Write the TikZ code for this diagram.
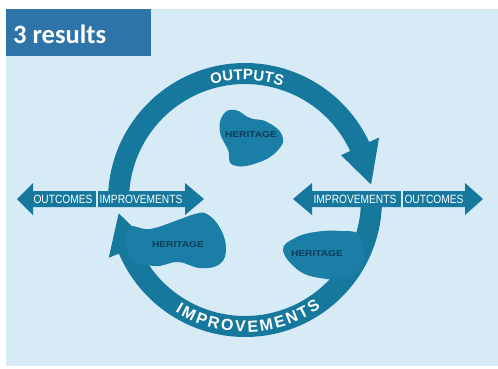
\documentclass[tikz,border=0pt]{standalone}
\usepackage{fontspec}
\usepackage{graphicx}
\setmainfont{Liberation Sans}
\newfontfamily\calib{Carlito}
\usetikzlibrary{calc,decorations.text}
\definecolor{ringc}{RGB}{22,120,157}
\definecolor{blobc}{RGB}{26,126,166}
\definecolor{bgc}{RGB}{214,235,246}
\definecolor{titlec}{RGB}{46,116,168}
\definecolor{herc}{RGB}{14,60,90}
\begin{document}
\begin{tikzpicture}[x=1pt,y=1pt,
  arrtxt/.style={text=white,font=\fontsize{12}{12}\selectfont,inner sep=0pt},
  hertxt/.style={text=herc,font=\bfseries\fontsize{8.5}{8.5}\selectfont,inner sep=0pt},
  arrowbody/.style={fill=ringc},
  divider/.style={draw=bgc,line width=1.5pt},
  blob/.style={fill=blobc}]
\useasboundingbox (0,0) rectangle (498,368);
\fill[white] (0,0) rectangle (498,368);
\fill[bgc] (6,2) rectangle (498,359);
% title
\node[fill=titlec,minimum width=145pt,minimum height=47pt,anchor=south west,inner sep=0pt] (title) at (6,312) {};
\node[anchor=base west,text=white,font=\calib\bfseries\fontsize{26.5}{26.5}\selectfont,inner sep=0pt] (titletext) at (13,325) {3 results};
% ring
\coordinate (C) at (245,168);
\fill[ringc] ($(C)+(180:137)$) arc[start angle=180,end angle=25,radius=137]
  -- ($(C)+(25:148)$) -- ($(C)+(7:127)$) -- ($(C)+(25:106)$) -- ($(C)+(25:116)$)
  arc[start angle=25,end angle=180,radius=116] -- cycle;
\fill[ringc] ($(C)+(0:137)$) arc[start angle=0,end angle=-157,radius=137]
  -- ($(C)+(-157:148)$) -- ($(C)+(-174:127)$) -- ($(C)+(-157:106)$) -- ($(C)+(-157:116)$)
  arc[start angle=-157,end angle=0,radius=116] -- cycle;
% heritage blobs
\fill[blob] plot[smooth cycle,tension=0.8] coordinates {(223,253) (235,258) (250,250) (267,246) (282,233) (278,218) (257,205) (233,203) (228,218) (220,236)};
\fill[blob] plot[smooth cycle,tension=0.7] coordinates {(128,140) (150,139) (178,148) (195,154) (207,154) (220,140) (226,120) (220,104) (200,100) (178,106) (155,102) (130,110)};
\fill[blob] plot[smooth cycle,tension=0.7] coordinates {(283,118) (295,130) (315,136) (340,137) (360,132) (362,103) (345,90) (320,90) (298,98)};
\node[hertxt] (h1) at (251,233) {\scalebox{1.2}[1]{HERITAGE}};
\node[hertxt] (h2) at (178,123) {\scalebox{1.2}[1]{HERITAGE}};
\node[hertxt] (h3) at (317,114) {\scalebox{1.2}[1]{HERITAGE}};
% horizontal double arrows
\fill[arrowbody] (17,169) -- (33,185) -- (33,177) -- (185,177) -- (185,185) -- (204,169)
  -- (185,153) -- (185,161) -- (33,161) -- (33,153) -- cycle;
\draw[divider] (97,161) -- (97,177);
\fill[arrowbody] (293,169) -- (312,185) -- (312,177) -- (465,177) -- (465,185) -- (483,169)
  -- (465,153) -- (465,161) -- (312,161) -- (312,153) -- cycle;
\draw[divider] (402,161) -- (402,177);
\node[arrtxt] (lo) at (63,169) {\scalebox{0.85}[1]{OUTCOMES}};
\node[arrtxt] (li) at (141,169) {\scalebox{0.85}[1]{IMPROVEMENTS}};
\node[arrtxt] (ri) at (355,169) {\scalebox{0.85}[1]{IMPROVEMENTS}};
\node[arrtxt] (ro) at (434,169) {\scalebox{0.85}[1]{OUTCOMES}};
% curved labels
\path[decorate,decoration={text along path,text align=center,
  text={|\color{white}\bfseries\fontsize{15}{15}\selectfont|OUTPUTS}}]
  ($(C)+(111:120)$) arc[start angle=111,end angle=67,radius=120];
\path[decorate,decoration={text along path,text align=fit to path,
  text={|\color{white}\bfseries\fontsize{16}{16}\selectfont|IMPROVEMENTS}}]
  ($(C)+(238:132)$) arc[start angle=238,end angle=305,radius=132];
\end{tikzpicture}
\end{document}
